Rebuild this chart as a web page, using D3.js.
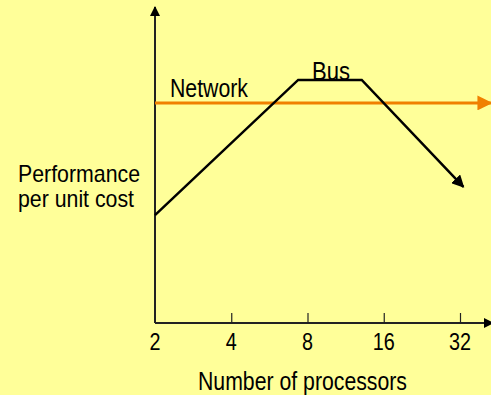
<!DOCTYPE html>
<html>
<head>
<meta charset="utf-8">
<script src="https://cdn.jsdelivr.net/npm/d3@7"></script>
<style>
  body { margin: 0; background: #ffff99; }
  svg { display: block; font-family: "Liberation Sans", Arial, sans-serif; }
</style>
</head>
<body>
<script>
(function(){

// processor counts on the axis
var tickValues = [2, 4, 8, 16, 32];
// bus curve: processors vs performance per unit cost (arbitrary units)
var busProcs = [2, 7.35, 13.1, 33];
var busPerf = [34.8, 78.4, 78.4, 43.9];
// network line
var netProcs = [2, 42.4];
var netPerf = [71, 71];

var width = 491, height = 395;

var svg = d3.select("body").append("svg")
    .attr("width", width)
    .attr("height", height);

var x = d3.scaleLog().base(2)
    .domain([2, 32])
    .range([155, 460]);

var y = d3.scaleLinear()
    .domain([0, 100])
    .range([323, 13]);

var defs = svg.append("defs");
function marker(id, color){
    defs.append("marker")
        .attr("id", id)
        .attr("viewBox", "0 0 10 10")
        .attr("refX", 9)
        .attr("refY", 5)
        .attr("markerWidth", 5)
        .attr("markerHeight", 5)
        .attr("markerUnits", "strokeWidth")
        .attr("orient", "auto")
        .append("path")
        .attr("d", "M0,0L10,5L0,10Z")
        .attr("fill", color);
}
marker("arrowBlack", "#000");
marker("arrowAxis", "#000");
marker("arrowOrange", "#f08000");

// axes
svg.append("line")
    .attr("x1", x(2)).attr("y1", y(0))
    .attr("x2", x(2)).attr("y2", 7)
    .attr("stroke", "#222")
    .attr("stroke-width", 2)
    .attr("marker-end", "url(#arrowAxis)");

svg.append("line")
    .attr("x1", x(2)).attr("y1", y(0))
    .attr("x2", 493).attr("y2", y(0))
    .attr("stroke", "#222")
    .attr("stroke-width", 2)
    .attr("marker-end", "url(#arrowAxis)");

var xAxis = d3.axisTop(x)
    .tickValues(tickValues.slice(1))
    .tickSize(10)
    .tickFormat("");

svg.append("g")
    .attr("transform", "translate(0," + y(0) + ")")
    .call(xAxis)
    .call(function(g){
        g.select(".domain").remove();
        g.selectAll(".tick line").attr("stroke", "#222").attr("stroke-width", 1.2);
    });

svg.selectAll(".tickLabel")
    .data(tickValues)
    .enter()
    .append("text")
    .attr("class", "tickLabel")
    .attr("x", function(d){ return x(d) - String(d).length * 5.5; })
    .attr("y", 350)
    .attr("font-size", 24)
    .attr("textLength", function(d){ return String(d).length * 11; })
    .attr("lengthAdjust", "spacingAndGlyphs")
    .text(function(d){ return d; });

svg.append("text")
    .attr("x", 198)
    .attr("y", 390)
    .attr("font-size", 25)
    .attr("textLength", 209)
    .attr("lengthAdjust", "spacingAndGlyphs")
    .text("Number of processors");

svg.append("text")
    .attr("x", 18)
    .attr("y", 182)
    .attr("font-size", 24)
    .attr("textLength", 122)
    .attr("lengthAdjust", "spacingAndGlyphs")
    .text("Performance");

svg.append("text")
    .attr("x", 18)
    .attr("y", 207)
    .attr("font-size", 24)
    .attr("textLength", 116)
    .attr("lengthAdjust", "spacingAndGlyphs")
    .text("per unit cost");

// network line
var line = d3.line()
    .x(function(d){ return x(d[0]); })
    .y(function(d){ return y(d[1]); });

svg.append("path")
    .datum(d3.zip(netProcs, netPerf))
    .attr("d", line)
    .attr("fill", "none")
    .attr("stroke", "#f08000")
    .attr("stroke-width", 3)
    .attr("marker-end", "url(#arrowOrange)");

// bus curve
svg.append("path")
    .datum(d3.zip(busProcs, busPerf))
    .attr("d", line)
    .attr("fill", "none")
    .attr("stroke", "#000")
    .attr("stroke-width", 2.5)
    .attr("stroke-linejoin", "miter")
    .attr("marker-end", "url(#arrowBlack)");

svg.append("text")
    .attr("x", 170)
    .attr("y", 97)
    .attr("font-size", 25)
    .attr("textLength", 78)
    .attr("lengthAdjust", "spacingAndGlyphs")
    .text("Network");

svg.append("text")
    .attr("x", 312)
    .attr("y", 80)
    .attr("font-size", 25)
    .attr("textLength", 38)
    .attr("lengthAdjust", "spacingAndGlyphs")
    .text("Bus");

})();
</script>
</body>
</html>
